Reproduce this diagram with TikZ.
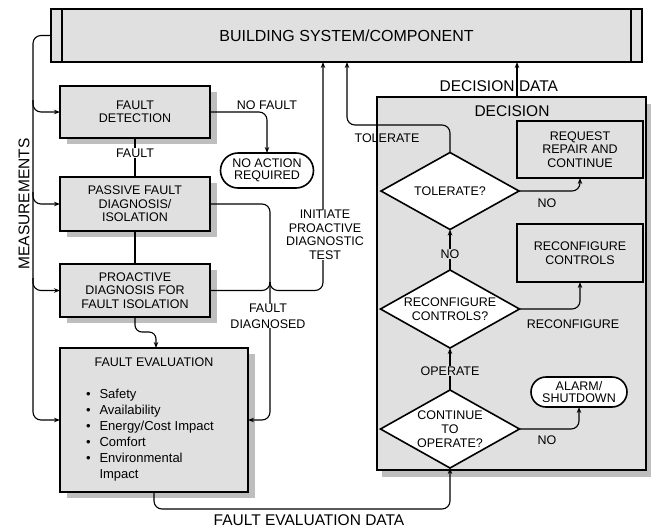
\documentclass[tikz,border=0pt]{standalone}
\usepackage{fontspec}
\setmainfont{Liberation Sans}
\usetikzlibrary{arrows.meta,shapes.geometric,shadows,calc}
\definecolor{boxfill}{RGB}{224,224,224}
\definecolor{shadowc}{RGB}{190,190,190}
\begin{document}
\begin{tikzpicture}[x=1pt,y=-1pt,
  every node/.style={outer sep=0pt},
  fs/.style={font=\fontsize{12.5}{13.5}\selectfont},
  lbl/.style={fs, align=center, inner sep=1pt},
  big/.style={font=\fontsize{15.5}{17}\selectfont, inner sep=0pt},
  box/.style={draw, line width=1.6pt, fill=boxfill, rectangle, inner sep=0pt, align=center, fs},
  shad/.style={drop shadow={shadow xshift=7pt, shadow yshift=-6pt, fill=shadowc, opacity=1}},
  dia/.style={draw, line width=1.6pt, fill=white, diamond, aspect=1.8, inner sep=0pt, align=center, fs},
  pill/.style={draw, line width=1.6pt, fill=white, rectangle, inner sep=0pt, align=center, font=\fontsize{12.5}{12}\selectfont},
  conn/.style={line width=1.1pt, rounded corners=8pt},
  arr/.style={conn, -{Stealth[length=6pt,width=4.5pt]}}
]
\useasboundingbox (0,0) rectangle (653,528);

% ---- nodes ----
\node[box, minimum width=591pt, minimum height=53pt, font=\fontsize{16}{18}\selectfont] (top) at (346.5,35.5) {BUILDING SYSTEM/COMPONENT};
\draw[line width=1.2pt] ([xshift=11pt]top.north west) -- ([xshift=11pt]top.south west);
\draw[line width=1.2pt] ([xshift=-11pt]top.north east) -- ([xshift=-11pt]top.south east);

\node[box, shad, minimum width=150pt, minimum height=52pt] (det) at (135,112) {FAULT\\DETECTION};
\node[box, shad, minimum width=150pt, minimum height=54pt] (pas) at (135,204) {PASSIVE FAULT\\DIAGNOSIS/\\ISOLATION};
\node[box, shad, minimum width=150pt, minimum height=53pt] (pro) at (135,290.5) {PROACTIVE\\DIAGNOSIS FOR\\FAULT ISOLATION};
\node[box, shad, minimum width=188pt, minimum height=144pt] (eval) at (154,420) {};
\node[fs, inner sep=0pt] (evt) at (154,362) {FAULT EVALUATION};
\node[anchor=base west, inner sep=0pt, font=\fontsize{13}{16}\selectfont] (evl) at (86,398)
  {\begin{tabular}[t]{@{}l@{\hspace{9pt}}l@{}}
   \textbullet & Safety\\
   \textbullet & Availability\\
   \textbullet & Energy/Cost Impact\\
   \textbullet & Comfort\\
   \textbullet & Environmental\\
               & Impact
   \end{tabular}};

\node[pill, minimum width=93pt, minimum height=35pt, rounded corners=17.5pt] (noact) at (267,170.5) {NO ACTION\\REQUIRED};

\node[box, drop shadow={shadow xshift=5pt, shadow yshift=-7pt, fill=shadowc, opacity=1}, minimum width=269pt, minimum height=373pt] (dec) at (511.5,283.5) {};
\node[big] (dect) at (512,111) {DECISION};

\node[dia, minimum width=138pt, minimum height=77pt] (tol) at (450,191) {TOLERATE?};
\node[box, minimum width=126pt, minimum height=57pt] (req) at (580,149.5) {REQUEST\\REPAIR AND\\CONTINUE};
\node[box, minimum width=126pt, minimum height=58pt] (rec) at (580,253) {RECONFIGURE\\CONTROLS};
\node[dia, minimum width=139pt, minimum height=78pt] (recd) at (450,309) {RECONFIGURE\\CONTROLS?};
\node[dia, minimum width=139pt, minimum height=78pt, font=\fontsize{12.5}{14}\selectfont] (cont) at (450,429) {CONTINUE\\TO\\OPERATE?};
\node[pill, minimum width=96pt, minimum height=30pt, rounded corners=15pt] (alarm) at (579,392) {ALARM/\\SHUTDOWN};

% ---- coordinates ----
\coordinate (mtop) at (33,35.5);
\coordinate (mbot) at (33,420);
\coordinate (m1) at (33,100);
\coordinate (m2) at (33,192);
\coordinate (m3) at (33,278);
\coordinate (fdx) at (270,420);
\coordinate (j1) at (270,282);
\coordinate (j2) at (323,290.5);
\coordinate (pe) at (156,332);
\coordinate (fe) at (450,509);
\coordinate (tt) at (347,125);
\coordinate (dd) at (517,97);

% ---- connectors ----
\draw[arr] (top.west) -- (mtop) -- (mbot) -- (eval.west);
\draw[arr] (m1) |- (det.west);
\draw[arr] (m2) |- (pas.west);
\draw[arr] (m3) |- (pro.west);

\draw[arr] (det.east) -| (noact.north);
\draw[conn] (det.south) -- (pas.north);
\draw[conn] (pas.south) -- (pro.north);
\draw[arr] (pas.east) -| (fdx) -- (eval.east);
\draw[conn] (pro.east) -| (j1);
\draw[arr] (j1) |- (j2) -- (j2 |- top.south);
\draw[arr, rounded corners=7pt] (pro.south) |- (pe) -- (pe |- eval.north);
\draw[arr] (eval.south) |- (fe) -- (cont.south);

\draw[arr] (dd) -- (dd |- top.south);
\draw[arr] (tol.north) |- (tt) -- (tt |- top.south);
\draw[arr] (tol.east) -| (req.south);
\draw[arr] (recd.north) -- (tol.south);
\draw[arr] (recd.east) -| (rec.south);
\draw[arr] (cont.north) -- (recd.south);
\draw[arr] (cont.east) -| (alarm.south);

% ---- labels ----
\node[big, rotate=90] (meas) at (24,204) {MEASUREMENTS};
\node[lbl] (lnf) at (267,105) {NO FAULT};
\node[lbl, fill=white] (lf) at (135,153) {FAULT};
\node[lbl, fill=white, inner sep=0pt] (lini) at (325,235) {INITIATE\\PROACTIVE\\DIAGNOSTIC\\TEST};
\node[lbl, fill=white, inner sep=0pt, font=\fontsize{12.5}{16}\selectfont] (lfd) at (268,316) {FAULT\\DIAGNOSED};
\node[big, anchor=east] (ldd1) at (514.5,86) {DECISION};
\node[big, anchor=west] (ldd2) at (519,86) {DATA};
\node[lbl] (ltol) at (387,138) {TOLERATE};
\node[lbl] (lno1) at (547,203) {NO};
\node[lbl, fill=boxfill] (lno2) at (450,254) {NO};
\node[lbl] (lrc) at (573,324) {RECONFIGURE};
\node[lbl, fill=boxfill] (lop) at (450,371) {OPERATE};
\node[lbl] (lno3) at (547,440) {NO};
\node[big] (lfed) at (309,520) {FAULT EVALUATION DATA};
\end{tikzpicture}
\end{document}
